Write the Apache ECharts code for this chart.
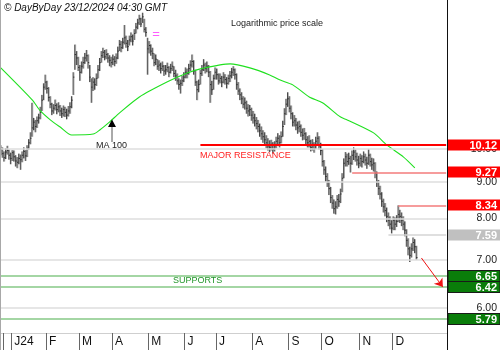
<!DOCTYPE html>
<html>
<head>
<meta charset="utf-8">
<script src="https://cdn.jsdelivr.net/npm/echarts@6/dist/echarts.min.js"></script>
<style>
html,body{margin:0;padding:0;background:#fff;}
#c{width:500px;height:350px;}
</style>
</head>
<body>
<div id="c"></div>
<script>
// ---------- DATA ----------
const holidays = ['2023-12-25','2024-01-01','2024-01-15','2024-02-19','2024-03-29','2024-05-27','2024-06-19','2024-07-04','2024-09-02','2024-11-28','2024-12-25','2025-01-01'];
const monthLetters = ['J','F','M','A','M','J','J','A','S','O','N','D'];

const closes = [
9.98,9.85,9.72,9.90,9.95,9.80,9.70,9.88,9.75,9.62,
9.58,9.70,9.66,9.80,9.92,9.78,10.02,10.20,10.35,10.70,
10.90,10.75,10.95,11.05,11.25,11.70,12.20,12.40,12.15,11.80,
11.55,11.30,11.40,11.50,11.35,11.45,11.30,11.20,11.35,11.25,
11.15,11.30,11.45,11.70,12.60,13.55,13.40,13.00,12.80,13.05,
13.20,13.40,13.50,13.20,12.60,12.20,12.40,12.30,12.55,12.90,
13.20,13.50,13.65,13.45,13.55,13.40,13.30,13.20,13.35,13.25,
13.40,13.70,14.00,13.85,14.10,14.30,14.05,13.90,14.20,14.35,
14.15,14.50,14.80,15.00,15.20,14.95,15.30,14.70,14.55,13.80,
13.95,13.70,13.60,13.20,13.35,13.05,13.10,12.95,13.05,12.85,
12.90,13.00,12.80,12.95,13.05,12.75,12.65,12.45,12.30,12.35,
12.45,12.60,12.80,12.75,12.95,13.10,13.25,12.85,12.40,12.10,
12.30,12.75,12.90,13.10,12.95,13.05,12.80,12.30,12.10,12.55,
12.80,12.70,12.45,12.55,12.40,12.60,12.50,12.35,12.55,12.65,
12.80,12.90,12.70,12.30,12.05,11.90,11.75,11.55,11.60,11.40,
11.30,11.35,11.15,11.05,10.95,10.85,10.75,10.60,10.50,10.40,
10.30,10.20,10.10,10.05,10.15,9.98,10.10,10.25,10.35,10.20,
10.40,10.75,11.20,11.55,11.75,11.40,11.20,10.90,10.95,10.80,
10.70,10.75,10.55,10.45,10.50,10.30,10.20,10.25,10.05,10.15,
10.00,10.25,10.35,10.10,9.95,9.60,9.35,9.15,9.00,8.80,
8.55,8.40,8.25,8.30,8.50,8.45,8.65,9.10,9.55,9.75,
9.60,9.70,9.55,9.80,9.90,9.75,9.65,9.55,9.70,9.60,
9.75,9.65,9.55,9.80,9.60,9.50,9.55,9.25,9.00,8.80,
8.65,8.45,8.30,8.20,8.05,7.95,7.85,7.75,7.95,7.85,
7.92,8.10,8.05,7.95,7.85,7.70,7.45,7.25,7.10,7.25,
7.40,7.30,7.05
];
const highs = [
10.12,10.05,9.92,10.02,10.10,9.98,9.88,9.96,9.95,9.80,
9.74,9.85,9.82,9.92,10.05,9.96,10.12,10.32,10.55,11.60,
11.05,10.98,11.10,11.20,11.45,11.90,12.35,12.70,12.45,12.20,
11.85,11.60,11.55,11.72,11.58,11.62,11.52,11.42,11.50,11.45,
11.38,11.48,11.62,11.85,12.80,13.99,13.70,13.45,13.10,13.25,
13.45,13.62,13.75,13.55,13.10,12.55,12.60,12.55,12.75,13.10,
13.40,13.70,13.85,13.75,13.78,13.62,13.52,13.45,13.55,13.48,
13.60,13.90,14.20,14.15,14.30,14.90,14.40,14.20,14.40,14.55,
14.45,14.70,15.00,15.20,15.40,15.25,15.50,15.20,14.80,14.30,
14.15,14.00,13.85,13.60,13.55,13.35,13.30,13.20,13.25,13.10,
13.10,13.20,13.05,13.15,13.25,13.05,12.90,12.75,12.55,12.50,
12.65,12.80,13.00,12.95,13.15,13.30,13.55,13.30,12.90,12.45,
12.50,12.90,13.10,13.35,13.20,13.25,13.10,12.85,12.45,12.70,
13.00,12.95,12.75,12.75,12.65,12.80,12.72,12.60,12.70,12.85,
12.98,13.05,12.95,12.75,12.40,12.15,12.00,11.85,11.80,11.68,
11.55,11.52,11.42,11.30,11.20,11.08,10.98,10.85,10.75,10.62,
10.55,10.45,10.35,10.28,10.30,10.22,10.25,10.40,10.52,10.45,
10.58,10.95,11.40,11.75,12.00,11.85,11.50,11.25,11.15,11.05,
10.92,10.95,10.82,10.68,10.70,10.55,10.42,10.45,10.30,10.32,
10.22,10.40,10.55,10.42,10.20,10.00,9.65,9.45,9.25,9.05,
8.85,8.62,8.50,8.45,8.62,8.65,8.80,9.25,9.70,9.90,
9.85,9.88,9.78,9.95,10.05,9.98,9.88,9.78,9.85,9.80,
9.92,9.85,9.75,10.00,9.85,9.72,9.70,9.58,9.30,9.05,
8.88,8.70,8.52,8.40,8.28,8.15,8.05,7.95,8.05,8.02,
8.08,8.34,8.22,8.15,8.05,7.92,7.72,7.50,7.30,7.38,
7.52,7.48,7.32
];
const lows = [
9.80,9.72,9.60,9.68,9.82,9.66,9.52,9.62,9.60,9.45,
9.40,9.52,9.35,9.58,9.70,9.62,9.74,9.98,10.15,10.40,
10.62,10.55,10.70,10.85,11.00,11.30,11.70,12.10,11.95,11.65,
11.40,11.15,11.20,11.32,11.18,11.25,11.12,11.05,11.10,11.08,
11.00,11.10,11.20,11.40,11.90,12.90,13.10,12.85,12.45,12.75,
12.95,13.15,13.25,12.95,12.40,11.60,12.05,12.10,12.25,12.55,
12.85,13.20,13.40,13.30,13.35,13.20,13.05,13.00,13.10,13.05,
13.15,13.35,13.70,13.65,13.80,14.00,13.85,13.70,13.95,14.10,
13.95,14.20,14.50,14.70,14.90,14.80,15.00,14.55,14.35,12.70,
13.60,13.50,13.35,13.05,13.10,12.90,12.85,12.75,12.85,12.65,
12.70,12.80,12.60,12.75,12.85,12.60,12.45,12.30,12.10,11.95,
12.25,12.40,12.55,12.55,12.70,12.85,13.00,12.70,12.25,11.70,
12.00,12.30,12.65,12.85,12.75,12.80,12.60,11.60,11.90,12.10,
12.50,12.50,12.30,12.35,12.20,12.35,12.30,12.15,12.30,12.40,
12.55,12.65,12.50,12.10,11.90,11.70,11.55,11.40,11.35,11.20,
11.10,11.12,10.95,10.85,10.75,10.65,10.55,10.40,10.30,10.20,
10.12,10.02,9.95,9.90,9.95,9.85,9.92,10.02,10.15,10.05,
10.18,10.40,10.80,11.15,11.45,11.25,11.00,10.75,10.75,10.62,
10.50,10.55,10.40,10.28,10.30,10.15,10.05,10.05,9.92,9.95,
9.88,10.00,10.15,9.98,9.80,9.45,9.20,9.00,8.85,8.62,
8.40,8.25,8.12,8.10,8.25,8.30,8.40,8.70,9.10,9.45,
9.45,9.50,9.27,9.50,9.65,9.60,9.48,9.40,9.45,9.42,
9.55,9.48,9.38,9.50,9.45,9.35,9.30,9.10,8.85,8.62,
8.50,8.30,8.15,8.05,7.90,7.80,7.72,7.62,7.70,7.70,
7.78,7.90,7.88,7.80,7.70,7.55,7.30,7.10,6.95,7.05,
7.20,7.15,7.00
];
// MA 100 read at sample days (day index, value)
const maIdx = [0,19,24,30,36,43,56,60,66,72,84,101,113,121,139,151,163,169,177,187,195,206,210,226,234,244,251];
const maVal = [12.98,11.71,11.30,10.98,10.73,10.46,10.49,10.63,10.91,11.23,11.82,12.41,12.77,12.94,13.15,12.98,12.69,12.49,12.29,11.82,11.60,11.08,10.98,10.53,10.13,9.75,9.41];

const gridLevels = [6, 7, 8, 9, 10];
const gridLabels = ['6.00','7.00','8.00','9.00','10.00'];
const resistLevels = [10.12, 9.27, 8.34];
const resistStart = [121, 213, 241];
const lastLevel = 7.59, lastStart = 235;
const supportLevels = [6.65, 6.42, 5.79];
const arrowFrom = [255, 7.04], arrowTo = [268, 6.41];
const TOTAL_DAYS = 271;

// ---------- CATEGORIES ----------
const dates = [];
{
  let t = Date.UTC(2023, 11, 20);
  while (dates.length < TOTAL_DAYS) {
    const d = new Date(t);
    const wd = d.getUTCDay();
    const s = d.toISOString().slice(0, 10);
    if (wd !== 0 && wd !== 6 && holidays.indexOf(s) < 0) dates.push(s);
    t += 86400000;
  }
}
const monthStart = new Set();
for (let i = 1; i < closes.length; i++) {
  if (dates[i].slice(0, 7) !== dates[i - 1].slice(0, 7)) monthStart.add(i);
}
const tickSet = new Set(monthStart); tickSet.add(2);

const FONT = '"Liberation Sans", Arial, sans-serif';
const ohlc = closes.map((c, i) => [i, lows[i], highs[i], c]);
const maData = maIdx.map((k, j) => [k, maVal[j]]);

const chart = echarts.init(document.getElementById('c'), null, {renderer: 'canvas'});

const option = {
  animation: false,
  backgroundColor: '#ffffff',
  grid: {left: 0, right: 53, top: 0, bottom: 17},
  xAxis: {
    type: 'category', data: dates, boundaryGap: true,
    axisLine: {show: true, lineStyle: {color: '#cfcfcf', width: 1}},
    axisTick: {show: true, interval: (i) => tickSet.has(i), length: 17, lineStyle: {color: '#666', width: 1}},
    axisLabel: {
      interval: (i) => monthStart.has(i), align: 'left', margin: 3, padding: [0, 0, 0, 2],
      fontSize: 12, color: '#111', fontFamily: FONT,
      formatter: (v) => { const m = +v.slice(5, 7) - 1; return m === 0 ? 'J' + v.slice(2, 4) : monthLetters[m]; }
    },
    splitLine: {show: false}
  },
  yAxis: {
    type: 'log', position: 'right', min: 5.53, max: 16.15,
    axisLine: {show: false}, axisTick: {show: false}, axisLabel: {show: false}, splitLine: {show: false}
  },
  series: [
    { // grid levels
      type: 'line', data: [], z: 1, silent: true,
      markLine: {
        silent: true, symbol: 'none', label: {show: false},
        lineStyle: {color: '#dedede', width: 1.5, type: 'solid'},
        data: gridLevels.map(v => ({yAxis: v}))
      }
    },
    {
      type: 'custom', z: 3, silent: true, data: ohlc,
      renderItem: function (params, api) {
        const i = api.value(0);
        const lo = api.coord([i, api.value(1)]);
        const hi = api.coord([i, api.value(2)]);
        const cl = api.coord([i, api.value(3)]);
        const x = hi[0];
        return {type: 'group', children: [
          {type: 'rect', shape: {x: x, y: hi[1], width: 1.1, height: lo[1] - hi[1]}, style: {fill: '#b4b4b4'}},
          {type: 'line', shape: {x1: x - 0.3, y1: hi[1], x2: x - 0.3, y2: lo[1]}, style: {stroke: '#1a1a1a', lineWidth: 0.8}},
          {type: 'line', shape: {x1: x - 0.3, y1: cl[1], x2: x + 1.0, y2: cl[1]}, style: {stroke: '#1a1a1a', lineWidth: 0.8}}
        ]};
      }
    },
    {
      type: 'line', z: 4, data: maData, showSymbol: false, smooth: 0.25, silent: true,
      lineStyle: {color: '#1fe01f', width: 1.1}
    },
    { // levels
      type: 'line', data: [], z: 5, silent: true,
      markLine: {
        silent: true, symbol: 'none', label: {show: false},
        data: [
          [{coord: [resistStart[0], resistLevels[0]], lineStyle: {color: '#ff0000', width: 2.2, type: 'solid'}}, {coord: [TOTAL_DAYS - 1, resistLevels[0]]}],
          [{coord: [resistStart[1], resistLevels[1]], lineStyle: {color: '#f37b7b', width: 1.5, type: 'solid'}}, {coord: [TOTAL_DAYS - 1, resistLevels[1]]}],
          [{coord: [resistStart[2], resistLevels[2]], lineStyle: {color: '#f37b7b', width: 1.5, type: 'solid'}}, {coord: [TOTAL_DAYS - 1, resistLevels[2]]}],
          [{coord: [lastStart, lastLevel], lineStyle: {color: '#d4d4d4', width: 1.5, type: 'solid'}}, {coord: [TOTAL_DAYS - 1, lastLevel]}],
          {yAxis: supportLevels[0], lineStyle: {color: '#86c886', width: 1.6, type: 'solid'}},
          {yAxis: supportLevels[1], lineStyle: {color: '#86c886', width: 1.6, type: 'solid'}},
          {yAxis: supportLevels[2], lineStyle: {color: '#86c886', width: 1.6, type: 'solid'}}
        ]
      }
    },
    { // red projection arrow
      type: 'line', data: [], z: 6, silent: true,
      markLine: {
        silent: true, symbol: ['none', 'arrow'], symbolSize: 8, label: {show: false},
        lineStyle: {color: '#ee1111', width: 1, type: 'solid'},
        data: [[{coord: arrowFrom}, {coord: arrowTo}]]
      }
    }
  ]
};
chart.setOption(option);

// ---------- right-hand labels & annotations ----------
const py = (v) => chart.convertToPixel({yAxisIndex: 0}, v);
const g = [];
g.push({type: 'line', shape: {x1: 0.5, y1: 0, x2: 0.5, y2: 350}, style: {stroke: '#a8a8a8', lineWidth: 1}, z: 10});
g.push({type: 'line', shape: {x1: 447.5, y1: 0, x2: 447.5, y2: 350}, style: {stroke: '#111', lineWidth: 1}, z: 10});
gridLevels.forEach((v, k) => {
  g.push({type: 'text', x: 497, y: py(v), z: 11, style: {text: gridLabels[k], fill: '#222', font: '10.5px ' + FONT, align: 'right', verticalAlign: 'middle'}});
});
function box(v, txt, fill, stroke, color) {
  const y = py(v);
  g.push({type: 'rect', z: 12, shape: {x: 448, y: Math.round(y) - 5.5, width: 52, height: 11}, style: {fill: fill, stroke: stroke || null, lineWidth: stroke ? 1 : 0}});
  g.push({type: 'text', z: 13, x: 497, y: Math.round(y) + 0.5, style: {text: txt, fill: color || '#fff', font: 'bold 11px ' + FONT, align: 'right', verticalAlign: 'middle'}});
}
resistLevels.forEach(v => box(v, v.toFixed(2), '#ff0000'));
box(lastLevel, lastLevel.toFixed(2), '#c0c0c0');
supportLevels.forEach(v => box(v, v.toFixed(2), '#0a7d0a', '#1a1a1a'));

g.push({type: 'text', x: 4, y: 8, z: 11, style: {text: '\u00a9 DayByDay 23/12/2024 04:30 GMT', fill: '#111', font: 'italic 10px ' + FONT, align: 'left', verticalAlign: 'middle'}});
g.push({type: 'text', x: 231, y: 24, z: 11, style: {text: 'Logarithmic price scale', fill: '#222', font: '9px ' + FONT, align: 'left', verticalAlign: 'middle'}});
g.push({type: 'text', x: 200, y: 155.5, z: 11, style: {text: 'MAJOR RESISTANCE', fill: '#ff2020', font: '9px ' + FONT, align: 'left', verticalAlign: 'middle'}});
g.push({type: 'text', x: 173, y: 280.5, z: 11, style: {text: 'SUPPORTS', fill: '#22962a', font: '9px ' + FONT, align: 'left', verticalAlign: 'middle'}});
g.push({type: 'text', x: 96, y: 146, z: 11, style: {text: 'MA 100', fill: '#222', font: '9px ' + FONT, align: 'left', verticalAlign: 'middle'}});
g.push({type: 'line', z: 11, shape: {x1: 112, y1: 126, x2: 112, y2: 142}, style: {stroke: '#555', lineWidth: 1}});
g.push({type: 'polygon', z: 11, shape: {points: [[112, 119.5], [108, 127], [116, 127]]}, style: {fill: '#000'}});
g.push({type: 'text', x: 156, y: 34.5, z: 11, style: {text: '=', fill: '#ff5cff', font: '13px ' + FONT, align: 'center', verticalAlign: 'middle'}});

chart.setOption({graphic: {elements: g}});
</script>
</body>
</html>
